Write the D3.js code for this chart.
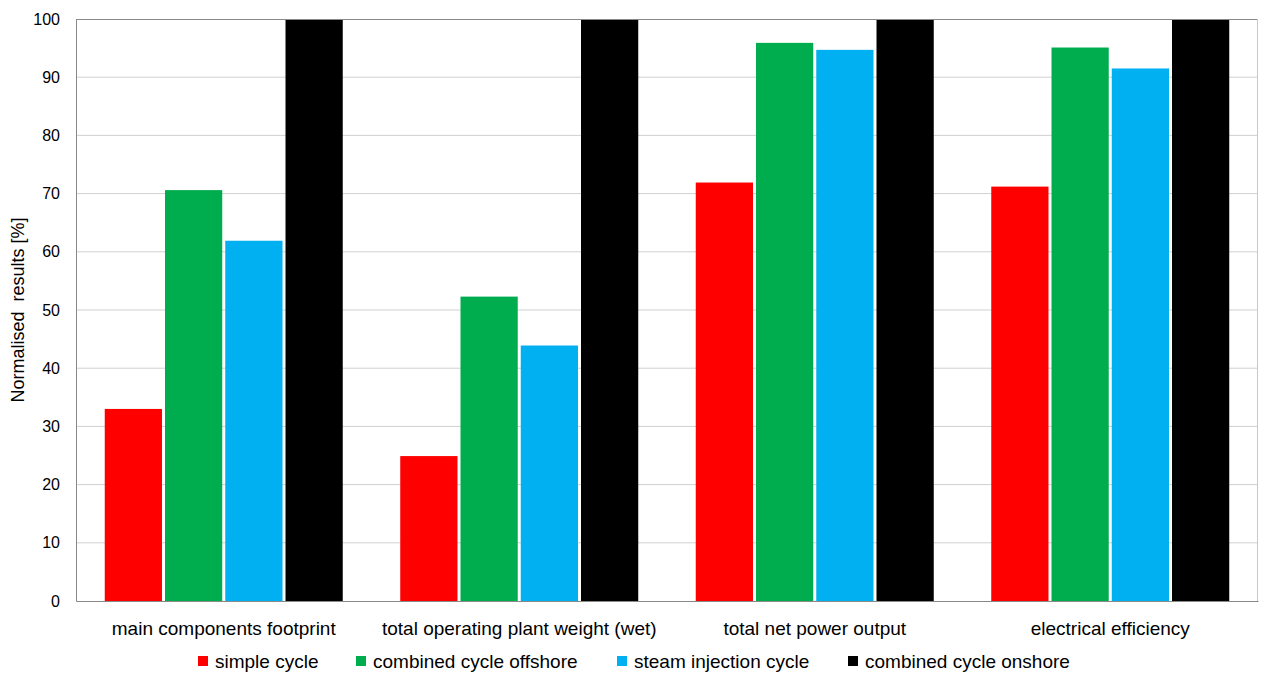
<!DOCTYPE html>
<html>
<head>
<meta charset="utf-8">
<script src="https://cdn.jsdelivr.net/npm/d3@7"></script>
<style>
  html, body { margin: 0; padding: 0; background: #fff; }
  svg { display: block; font-family: "Liberation Sans", Arial, sans-serif; }
</style>
</head>
<body>
<svg id="chart" width="1264" height="677"></svg>
<script>
// Categories compared
const categories = [
  "main components footprint",
  "total operating plant weight (wet)",
  "total net power output",
  "electrical efficiency"
];

// Cycle configurations (legend order)
const seriesNames = [
  "simple cycle",
  "combined cycle offshore",
  "steam injection cycle",
  "combined cycle onshore"
];
const seriesColors = ["#ff0000", "#00ad4e", "#00b0f0", "#000000"];

// Normalised results [%] per series, one value per category
const simpleCycle       = [33.0, 24.9, 71.9, 71.2];
const combinedOffshore  = [70.6, 52.3, 95.9, 95.1];
const steamInjection    = [61.9, 43.9, 94.7, 91.5];
const combinedOnshore   = [100, 100, 100, 100];
const seriesValues = [simpleCycle, combinedOffshore, steamInjection, combinedOnshore];

const yTicks = [0, 10, 20, 30, 40, 50, 60, 70, 80, 90, 100];

const svg = d3.select("#chart");
const margin = { left: 76, top: 19, right: 6, bottom: 76 };
const W = 1264, H = 677;
const plotW = W - margin.left - margin.right;
const plotH = H - margin.top - margin.bottom;
const FONT = "Liberation Sans, Arial, sans-serif";

const g = svg.append("g").attr("transform", `translate(${margin.left},${margin.top})`);

const x0 = d3.scaleBand().domain(categories).range([0, plotW]).paddingInner(0).paddingOuter(0);
const groupPad = 28.75;
const x1 = d3.scaleBand().domain(seriesNames)
  .range([groupPad, x0.bandwidth() - groupPad])
  .paddingInner(0.05).paddingOuter(0);
const y = d3.scaleLinear().domain([0, 100]).range([plotH, 0]);

// Horizontal gridlines
g.append("g")
  .selectAll("line")
  .data(yTicks.filter(t => t > 0 && t < 100))
  .join("line")
  .attr("x1", 0).attr("x2", plotW)
  .attr("y1", d => y(d)).attr("y2", d => y(d))
  .attr("stroke", "#d0d0d0").attr("stroke-width", 1);

// Bars
const groups = g.append("g")
  .selectAll("g")
  .data(categories)
  .join("g")
  .attr("transform", d => `translate(${x0(d)},0)`);

groups.selectAll("rect")
  .data((c, ci) => seriesNames.map((s, si) => ({ s, si, v: seriesValues[si][ci] })))
  .join("rect")
  .attr("x", d => x1(d.s))
  .attr("width", x1.bandwidth())
  .attr("y", d => y(d.v))
  .attr("height", d => y(0) - y(d.v))
  .attr("fill", d => seriesColors[d.si]);

// Plot frame
g.append("line").attr("x1", 0).attr("x2", plotW).attr("y1", 0.5).attr("y2", 0.5)
  .attr("stroke", "#898989");
g.append("line").attr("x1", plotW - 0.5).attr("x2", plotW - 0.5).attr("y1", 0).attr("y2", plotH)
  .attr("stroke", "#c8c8c8");

// Y axis
const yAxis = g.append("g")
  .call(d3.axisLeft(y).tickValues(yTicks).tickSize(0).tickPadding(16).tickFormat(d3.format("d")));
yAxis.select(".domain").attr("stroke", "#898989");
yAxis.selectAll("text").attr("font-size", 16).attr("fill", "#000").attr("font-family", FONT);

// X axis
const xAxis = g.append("g")
  .attr("transform", `translate(0,${plotH})`)
  .call(d3.axisBottom(x0).tickSize(0).tickPadding(21));
xAxis.select(".domain").attr("stroke", "#898989");
xAxis.selectAll("text").attr("font-size", 19).attr("fill", "#000").attr("font-family", FONT);

// Y axis title
svg.append("text")
  .attr("transform", `translate(24,${margin.top + plotH / 2}) rotate(-90)`)
  .attr("text-anchor", "middle")
  .attr("font-size", 18)
  .attr("fill", "#000")
  .attr("font-family", FONT)
  .attr("xml:space", "preserve")
  .style("white-space", "pre")
  .text("Normalised  results [%]");

// Legend
const legendX = [198, 356, 617, 848];
const legend = svg.append("g").attr("transform", "translate(0,661)");
const items = legend.selectAll("g")
  .data(seriesNames)
  .join("g")
  .attr("transform", (d, i) => `translate(${legendX[i]},0)`);
items.append("rect")
  .attr("x", 0).attr("y", -5).attr("width", 10).attr("height", 10)
  .attr("fill", (d, i) => seriesColors[i]);
items.append("text")
  .attr("x", 17).attr("y", 0).attr("dy", "0.35em")
  .attr("font-size", 19).attr("fill", "#000").attr("font-family", FONT)
  .text(d => d);
</script>
</body>
</html>
